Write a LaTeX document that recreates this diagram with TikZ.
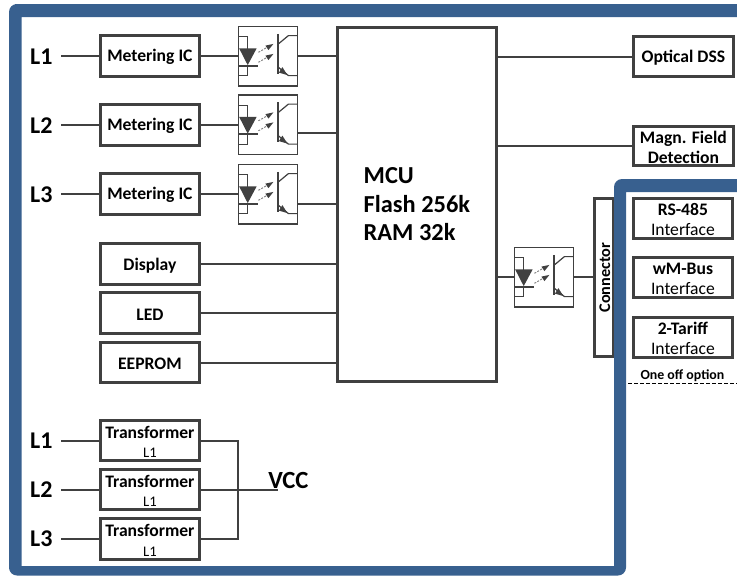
\documentclass[tikz,border=0pt]{standalone}
\usepackage{fontspec}
\setmainfont{Carlito}
\usetikzlibrary{arrows.meta}
\definecolor{frameblue}{HTML}{38608F}
\definecolor{linegray}{HTML}{404040}
\tikzset{
  x=0.75pt,y=-0.75pt,
  box/.style={draw=linegray,line width=1.9pt,fill=white,inner sep=0pt,outer sep=0pt,align=center,font=\bfseries\fontsize{13.2}{15}\selectfont,text=black},
  wire/.style={draw=linegray,line width=1.5pt},
  thin wire/.style={draw=linegray,line width=0.9pt},
  lab/.style={font=\bfseries\fontsize{18}{20}\selectfont,text=black,inner sep=0pt}
}
\newcommand{\bx}[6]{\node[box,minimum width=#4*0.75pt,minimum height=#5*0.75pt,anchor=north west] (#1) at (#2,#3) {\rule{0pt}{11pt}#6};}
\newcommand{\opto}[3]{%
 \begin{scope}[shift={(#2,#3)}]
 \node[draw=linegray,line width=1pt,minimum width=44.5pt,minimum height=44.5pt,inner sep=0pt,outer sep=0pt,anchor=north west] (#1) at (0,0) {};
 \draw[thin wire] (0,10)--(9.3,10)--(9.3,22) (9.3,39)--(9.3,49)--(0,49);
 \fill[linegray] (0.7,21.7)--(18.3,21.7)--(9.3,38.5)--cycle;
 \draw[linegray,line width=1.4pt] (0.7,39)--(20,39);
 \draw[gray,line width=0.7pt,dash pattern=on 1.5pt off 1pt] (20,25.7)--(30,20) (20,35.7)--(30,30);
 \fill[linegray] (35,17.3)--(27,19)--(30,23.5)--cycle (35,27.3)--(27,29)--(30,33.5)--cycle;
 \draw[linegray,line width=1.5pt] (40,7.3)--(40,47.3);
 \draw[thin wire] (40,17.3)--(50,9)--(59.5,9) (40,40.7)--(50,49)--(59.5,49);
 \fill[linegray] (49,48.5)--(40.5,46)--(44,40.5)--cycle;
 \end{scope}}
\begin{document}
\begin{tikzpicture}
\useasboundingbox (0,0) rectangle (737,576);
% frame
\fill[frameblue] (737,4)--(15,4) [rounded corners=6] -- (9,4)--(9,575.5)--(626,575.5) [sharp corners] --(626,192)--(737,192)--(737,179) [rounded corners=6] --(614,179) [sharp corners] --(614,566)--(21.5,566)--(21.5,17)--(737,17)--cycle;
\begin{scope}[shift={(0.4,0.6)}]
% boxes
\bx{m1}{100}{35}{99}{41}{Metering IC}
\bx{m2}{100}{104}{99}{41}{Metering IC}
\bx{m3}{100}{173}{99}{41}{Metering IC}
\bx{disp}{100}{243}{99}{41}{Display}
\bx{led}{100}{292}{99}{41}{LED}
\bx{eep}{100}{342}{99}{40}{EEPROM}
\node[box,minimum width=119.25pt,minimum height=265.5pt,anchor=north west] (mcu) at (337,27) {};
\node[anchor=west,align=left,inner sep=0pt,font=\bfseries\fontsize{18.3}{21.5}\selectfont] (mcutxt) at (363,203.5) {MCU\\Flash 256k\\RAM 32k};
\bx{dss}{633}{36}{100}{40}{Optical DSS}
\bx{magn}{633}{126}{100}{39}{Magn. Field\\Detection}
\node[box,minimum width=14pt,minimum height=118.5pt,anchor=north west] (conn) at (594,198) {};
\node[rotate=90,font=\bfseries\fontsize{12.2}{13}\selectfont,inner sep=0pt] (conntxt) at (604.5,277) {Connector};
\bx{rs}{633}{198}{99}{40}{RS-485\\\mdseries Interface}
\bx{wm}{633}{257}{99}{40}{wM-Bus\\\mdseries Interface}
\bx{tar}{633}{317}{99}{40}{2-Tariff\\\mdseries Interface}
\node[font=\bfseries\fontsize{10.4}{12}\selectfont,inner sep=0pt] (oneoff) at (682,375) {One off option};
\coordinate (dl) at (628,383); \coordinate (dr) at (737,383);
\draw[black,line width=0.8pt,dash pattern=on 3pt off 1.5pt] (dl)--(dr);
\bx{t1}{100}{420}{99}{40}{Transformer\\[-0.5pt]\mdseries\fontsize{11}{15}\selectfont L1}
\bx{t2}{100}{469}{99}{40}{Transformer\\[-0.5pt]\mdseries\fontsize{11}{15}\selectfont L1}
\bx{t3}{100}{518}{99}{41}{Transformer\\[-0.5pt]\mdseries\fontsize{11}{15}\selectfont L1}
% optos
\opto{o1}{238}{26}
\opto{o2}{238}{94.5}
\opto{o3}{238}{164}
\opto{o4}{514}{247}
% labels
\node[lab] (a1) at (41,56) {L1};
\node[lab] (a2) at (41,125) {L2};
\node[lab] (a3) at (41,194) {L3};
\node[lab] (b1) at (41,440) {L1};
\node[lab] (b2) at (41,489) {L2};
\node[lab] (b3) at (41,538) {L3};
\node[lab,font=\bfseries\fontsize{18.5}{20}\selectfont] (vcc) at (288,480) {VCC};
% wires
\foreach \n in {m1,m2,m3,t1,t2,t3}{\draw[wire] (\n.west)--++(-39,0);}
\draw[wire] (m1.east)--(m1.east -| o1.west);
\draw[wire] (m2.east)--(m2.east -| o2.west);
\draw[wire] (m3.east)--(m3.east -| o3.west);
\draw[wire] (o1.east)--(o1.east -| mcu.west);
\draw[wire] ([yshift=-6.5pt]o2.east)--([yshift=-6.5pt]o2.east -| mcu.west);
\draw[wire] ([yshift=-7.5pt]o3.east)--([yshift=-7.5pt]o3.east -| mcu.west);
\draw[wire] (disp.east)--(disp.east -| mcu.west);
\draw[wire] (led.east)--(led.east -| mcu.west);
\draw[wire] (eep.east)--(eep.east -| mcu.west);
\draw[wire] (dss.west)--(dss.west -| mcu.east);
\draw[wire] (magn.west)--(magn.west -| mcu.east);
\draw[wire] (o4.west)--(o4.west -| mcu.east);
\draw[wire] (o4.east)--(o4.east -| conn.west);
\coordinate (vccend) at (278,489);
\draw[wire] (t1.east)--++(39,0) coordinate (busa) -- (busa |- t3.east)--(t3.east);
\draw[wire] (t2.east)--(t2.east -| vccend);
\end{scope}
\end{tikzpicture}
\end{document}
